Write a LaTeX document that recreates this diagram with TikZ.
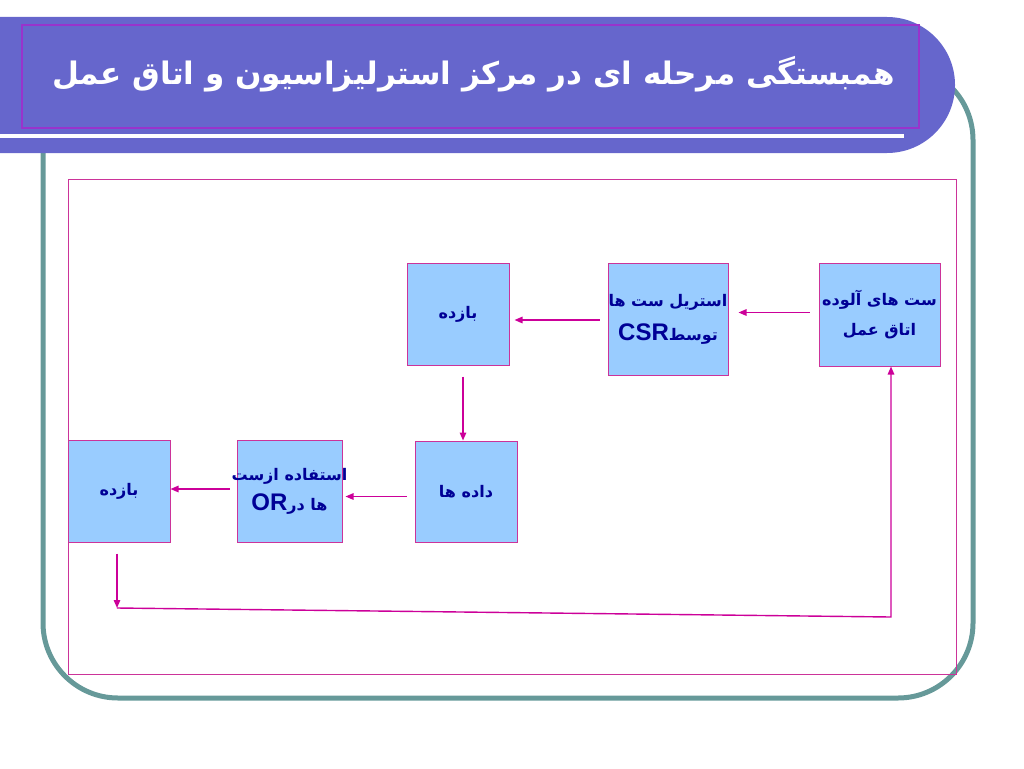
\documentclass[tikz,border=0pt]{standalone}
\usepackage{fontspec}
\usetikzlibrary{arrows.meta}
\TeXXeTstate=1
\newfontfamily\arabicfont[Script=Arabic]{DejaVu Sans}
\newfontfamily\csrfont{Liberation Sans}
\definecolor{bannerblue}{RGB}{102,102,204}
\definecolor{frameteal}{RGB}{102,153,153}
\definecolor{bannerline}{RGB}{153,51,204}
\definecolor{pinkline}{RGB}{204,51,153}
\definecolor{flowpink}{RGB}{204,0,153}
\definecolor{stagefill}{RGB}{153,204,255}
\definecolor{stagetext}{RGB}{0,0,150}
\newcommand{\rtl}[1]{\beginR#1\endR}
\newcommand{\lat}[1]{\beginL{\csrfont\bfseries\fontsize{24}{24}\selectfont #1}\endL}

\begin{document}
\begin{tikzpicture}[x=1pt,y=-1pt,
    stage/.style={draw=pinkline, line width=1pt, fill=stagefill, inner sep=0pt,
      minimum width=102pt, minimum height=102pt, align=center, text=stagetext,
      font=\arabicfont\bfseries\fontsize{16}{30}\selectfont},
    flow/.style={draw=flowpink, line width=1.4pt, -{Triangle[length=8pt,width=6.5pt]}}]
    \useasboundingbox (0,0) rectangle (1024,768);
    \draw [frameteal, line width=5pt, rounded corners=75pt] (43,65) rectangle (973,698);
    \fill [bannerblue, rounded corners=68pt] (-80,17) rectangle (955,153);
    \draw [bannerline, line width=1.2pt] (22,25) rectangle (919,128);
    \draw [white, line width=4pt] (0,136) -- (904,136);
    \node [anchor=east, text=white, inner sep=0pt, font=\arabicfont\bfseries\fontsize{31}{31}\selectfont] (title) at (895,74)
      {\rtl{همبستگی مرحله ای در مرکز استرلیزاسیون و اتاق عمل}};
    \draw [pinkline, line width=1pt] (68,179) rectangle (956,674);

    \node [stage, minimum width=121pt, minimum height=103pt] (dirty) at (879.5,314.5)
      {\rtl{ست های آلوده}\\\rtl{اتاق عمل}};
    \node [stage, minimum width=120pt, minimum height=112pt] (csr) at (668,319)
      {\rtl{استریل ست ها}\\[4pt]\rtl{توسط\lat{CSR}}};
    \node [stage] (outA) at (458,314) {\rtl{بازده}};
    \node [stage, minimum height=101pt] (data) at (466,491.5) {\rtl{داده ها}};
    \node [stage, minimum width=105pt] (use) at (289.5,491)
      {\makebox[0pt]{\rtl{استفاده ازست}}\\\makebox[0pt]{\rtl{ها در\lat{OR}}}};
    \node [stage] (outB) at (119,491) {\rtl{بازده}};

    \coordinate (loopL) at (117,608);
    \coordinate (loopR) at (891,617);
    \draw [flow] ([xshift=-9pt,yshift=2pt]dirty.west) -- ([xshift=10pt,yshift=2pt]dirty.west -| csr.east);
    \draw [flow] ([xshift=-8pt,yshift=-1pt]csr.west) -- ([xshift=5pt,yshift=-1pt]csr.west -| outA.east);
    \draw [flow] ([xshift=5pt,yshift=-11pt]outA.south) -- ([xshift=5pt]outA.south |- data.north);
    \draw [flow] ([xshift=-8pt,yshift=-5pt]data.west) -- ([xshift=3pt,yshift=-5pt]data.west -| use.east);
    \draw [flow] ([xshift=-7pt,yshift=2pt]use.west) -- ([yshift=2pt]use.west -| outB.east);
    \draw [flow] ([xshift=-2pt,yshift=-11pt]outB.south) -- (loopL);
    \draw [flow] (loopL) -- (loopR) -- (loopR |- dirty.south);
\end{tikzpicture}
\end{document}
